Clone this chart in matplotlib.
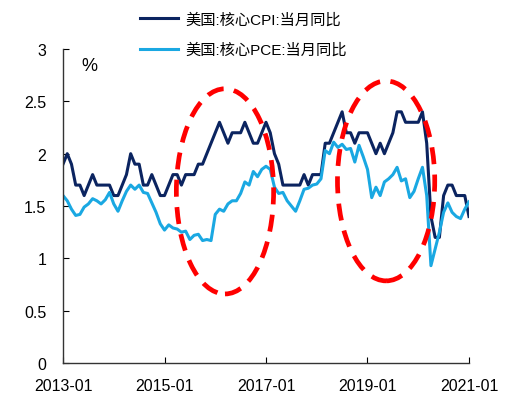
import numpy as np
import matplotlib
matplotlib.use("Agg")
import matplotlib.pyplot as plt
from matplotlib.patches import Ellipse

plt.rcParams['font.family'] = ['Liberation Sans', 'Noto Sans CJK SC', 'DejaVu Sans']

# monthly data, 2013-01 .. 2021-01
cpi = [1.9, 2.0, 1.9, 1.7, 1.7, 1.6, 1.7, 1.8, 1.7, 1.7, 1.7, 1.7,
       1.6, 1.6, 1.7, 1.8, 2.0, 1.9, 1.9, 1.7, 1.7, 1.8, 1.7, 1.6,
       1.6, 1.7, 1.8, 1.8, 1.7, 1.8, 1.8, 1.8, 1.9, 1.9, 2.0, 2.1,
       2.2, 2.3, 2.2, 2.1, 2.2, 2.2, 2.2, 2.3, 2.2, 2.1, 2.1, 2.2,
       2.3, 2.2, 2.0, 1.9, 1.7, 1.7, 1.7, 1.7, 1.7, 1.8, 1.7, 1.8,
       1.8, 1.8, 2.1, 2.1, 2.2, 2.3, 2.4, 2.2, 2.2, 2.1, 2.2, 2.2,
       2.2, 2.1, 2.0, 2.1, 2.0, 2.1, 2.2, 2.4, 2.4, 2.3, 2.3, 2.3,
       2.3, 2.4, 2.1, 1.4, 1.2, 1.2, 1.6, 1.7, 1.7, 1.6, 1.6, 1.6,
       1.4]
pce = [1.60, 1.55, 1.47, 1.41, 1.42, 1.49, 1.52, 1.57, 1.55, 1.52, 1.56, 1.63,
       1.52, 1.45, 1.55, 1.64, 1.70, 1.66, 1.70, 1.63, 1.62, 1.53, 1.44, 1.33,
       1.27, 1.32, 1.29, 1.28, 1.25, 1.26, 1.18, 1.22, 1.23, 1.17, 1.18, 1.17,
       1.42, 1.47, 1.45, 1.52, 1.55, 1.55, 1.62, 1.73, 1.70, 1.83, 1.78, 1.85,
       1.88, 1.85, 1.68, 1.62, 1.63, 1.55, 1.50, 1.45, 1.55, 1.66, 1.67, 1.70,
       1.71, 1.76, 2.03, 2.00, 2.11, 2.06, 2.09, 2.04, 2.05, 1.92, 2.08, 1.97,
       1.85, 1.58, 1.68, 1.60, 1.73, 1.76, 1.80, 1.87, 1.74, 1.76, 1.58, 1.64,
       1.76, 1.87, 1.60, 0.93, 1.09, 1.25, 1.44, 1.53, 1.44, 1.40, 1.38, 1.47,
       1.54]
months = np.arange(len(cpi))
tick_pos = [0, 24, 48, 72, 96]
tick_labels = ['2013-01', '2015-01', '2017-01', '2019-01', '2021-01']
yticks = [0, 0.5, 1, 1.5, 2, 2.5, 3]
ytick_labels = ['0', '0.5', '1', '1.5', '2', '2.5', '3']

# highlighted periods: (centre month, centre value, width months, height)
circles = [(38.3, 1.64, 23, 1.96), (76.4, 1.74, 23, 1.91)]

fig = plt.figure(figsize=(5.09, 4.06), dpi=100)
ax = fig.add_axes([0.1238, 0.1034, 0.7976, 0.7734])

ax.plot(months, cpi, color='#0b2460', lw=2.2, label='美国:核心CPI:当月同比')
ax.plot(months, pce, color='#1aa8e2', lw=2.2, label='美国:核心PCE:当月同比')

for cx, cy, w, h in circles:
    ax.add_patch(Ellipse((cx, cy), w, h, fill=False, edgecolor='#ff0000',
                         lw=3.4, linestyle=(0, (3.6, 2.2)), zorder=5))

ax.set_xlim(0, 96)
ax.set_ylim(0, 3)
ax.set_xticks(tick_pos)
ax.set_xticklabels(tick_labels)
ax.set_yticks(yticks)
ax.set_yticklabels(ytick_labels)
for s in ['top', 'right']:
    ax.spines[s].set_visible(False)
for s in ['left', 'bottom']:
    ax.spines[s].set_linewidth(1.0)
    ax.spines[s].set_color('#333333')
ax.tick_params(axis='both', direction='in', length=4, labelsize=11.5, colors='#000000')
ax.tick_params(axis='y', pad=12)
ax.tick_params(axis='x', pad=11)

ax.text(0.066, 0.948, '%', transform=ax.transAxes, fontsize=13,
        ha='center', va='center')

fig.legend(loc='upper left', bbox_to_anchor=(140 / 509, 1 - 13 / 406),
           frameon=False, fontsize=11, handlelength=2.5, handletextpad=0.45,
           labelspacing=1.05, borderpad=0, borderaxespad=0)

fig.savefig('out.png', dpi=100)
